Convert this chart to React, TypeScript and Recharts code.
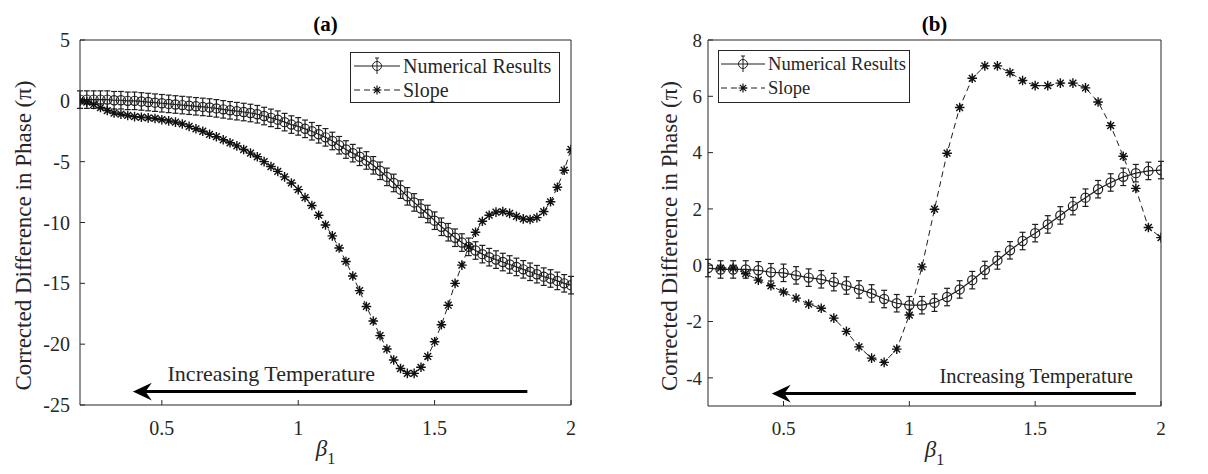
import React from "react";
import { LineChart, Line, XAxis, YAxis, ErrorBar, ReferenceLine, Legend } from "recharts";

// panel (a): beta step 0.025
const BETA_A = [
  0.2, 0.225, 0.25, 0.275, 0.3, 0.325, 0.35, 0.375, 0.4, 0.425, 0.45, 0.475, 0.5, 0.525, 0.55, 0.575,
  0.6, 0.625, 0.65, 0.675, 0.7, 0.725, 0.75, 0.775, 0.8, 0.825, 0.85, 0.875, 0.9, 0.925, 0.95, 0.975,
  1.0, 1.025, 1.05, 1.075, 1.1, 1.125, 1.15, 1.175, 1.2, 1.225, 1.25, 1.275, 1.3, 1.325, 1.35, 1.375,
  1.4, 1.425, 1.45, 1.475, 1.5, 1.525, 1.55, 1.575, 1.6, 1.625, 1.65, 1.675, 1.7, 1.725, 1.75, 1.775,
  1.8, 1.825, 1.85, 1.875, 1.9, 1.925, 1.95, 1.975, 2.0,
];
const NUM_A = [
  0.1, 0.1, 0.1, 0.1, 0.1, 0.05, 0.05, 0.0, 0.0, -0.05, -0.1, -0.15, -0.2, -0.25, -0.3, -0.35,
  -0.4, -0.45, -0.5, -0.55, -0.62, -0.7, -0.78, -0.85, -0.92, -1.0, -1.1, -1.25, -1.4, -1.55, -1.75, -1.95,
  -2.1, -2.3, -2.5, -2.75, -3.0, -3.3, -3.65, -4.0, -4.3, -4.6, -4.9, -5.3, -5.75, -6.25, -6.75, -7.3,
  -7.85, -8.35, -8.85, -9.3, -9.85, -10.35, -10.8, -11.25, -11.65, -12.0, -12.3, -12.6, -12.85, -13.05, -13.25, -13.45,
  -13.65, -13.85, -14.05, -14.25, -14.45, -14.6, -14.8, -15.0, -15.15,
];
const SLOPE_A = [
  0.0, -0.1, -0.3, -0.55, -0.8, -1.0, -1.1, -1.2, -1.3, -1.35, -1.4, -1.45, -1.55, -1.65, -1.75, -1.9,
  -2.1, -2.3, -2.5, -2.75, -2.95, -3.2, -3.45, -3.7, -4.0, -4.3, -4.6, -5.0, -5.4, -5.8, -6.25, -6.75,
  -7.3, -7.95, -8.6, -9.4, -10.2, -11.1, -12.1, -13.2, -14.4, -15.6, -16.9, -18.1, -19.3, -20.4, -21.3, -22.0,
  -22.4, -22.4, -21.9, -21.0, -19.8, -18.4, -16.8, -15.0, -13.5, -12.0, -10.8, -9.9, -9.4, -9.15, -9.1, -9.25,
  -9.5, -9.7, -9.75, -9.6, -9.1, -8.3, -7.1, -5.7, -4.0,
];
const ERR_A = 0.72;

// panel (b): beta step 0.05
const BETA_B = [
  0.2, 0.25, 0.3, 0.35, 0.4, 0.45, 0.5, 0.55, 0.6, 0.65, 0.7, 0.75, 0.8, 0.85, 0.9, 0.95,
  1.0, 1.05, 1.1, 1.15, 1.2, 1.25, 1.3, 1.35, 1.4, 1.45, 1.5, 1.55, 1.6, 1.65, 1.7, 1.75,
  1.8, 1.85, 1.9, 1.95, 2.0,
];
const NUM_B = [
  -0.1, -0.15, -0.15, -0.15, -0.18, -0.25, -0.27, -0.36, -0.44, -0.5, -0.6, -0.72, -0.86, -1.0, -1.2, -1.35,
  -1.42, -1.42, -1.33, -1.13, -0.86, -0.53, -0.17, 0.17, 0.53, 0.86, 1.14, 1.45, 1.77, 2.1, 2.4, 2.7,
  2.94, 3.14, 3.27, 3.35, 3.38,
];
const SLOPE_B = [
  null, -0.1, -0.1, -0.3, -0.53, -0.73, -0.95, -1.17, -1.38, -1.53, -1.88, -2.35, -2.9, -3.3, -3.45, -2.98,
  -1.77, -0.06, 1.99, 3.98, 5.6, 6.64, 7.08, 7.08, 6.84, 6.56, 6.38, 6.38, 6.47, 6.47, 6.3, 5.8,
  4.96, 3.87, 2.73, 1.34, 0.98,
];
const ERR_B = 0.31;

const X_TICKS = [0.5, 1, 1.5, 2];
const Y_TICKS_A = [-25, -20, -15, -10, -5, 0, 5];
const Y_TICKS_B = [-4, -2, 0, 2, 4, 6, 8];

// arrow annotations: from (right end) -> to (tip), at a y value
const ARROW_A = { from: 1.84, to: 0.4, y: -23.9 };
const ARROW_B = { from: 1.9, to: 0.46, y: -4.56 };

const FONT = "Liberation Serif, Tinos, Times New Roman, Times, DejaVu Serif, serif";
const INK = "#262626";
const LINE = "#1e1e1e";

const dataA = BETA_A.map((b, i) => ({ beta: b, num: NUM_A[i], slope: SLOPE_A[i], err: ERR_A }));
const dataB = BETA_B.map((b, i) => ({ beta: b, num: NUM_B[i], slope: SLOPE_B[i], err: ERR_B }));

const starPath = (cx: number, cy: number, r: number) => {
  const d = r * 0.7071;
  return `M${cx - r},${cy}H${cx + r}M${cx},${cy - r}V${cy + r}M${cx - d},${cy - d}L${cx + d},${cy + d}M${cx - d},${cy + d}L${cx + d},${cy - d}`;
};

const StarDot = (props: any) => {
  const { cx, cy, index } = props;
  if (cx == null || cy == null || props.value == null) return <g key={`s${index}`} />;
  return <path key={`s${index}`} d={starPath(cx, cy, 4.8)} stroke="#111" strokeWidth={1.4} fill="none" />;
};

const arrowShape = (text: string, align: "start" | "end", fontSize: number) => (p: any) => {
  const { x1, y1, x2 } = p;
  const y = y1;
  const tx = align === "start" ? x2 + 33 : x1 - 3;
  return (
    <g>
      <line x1={x1} y1={y} x2={x2 + 10} y2={y} stroke="#000" strokeWidth={3} />
      <path d={`M${x2},${y}L${x2 + 15},${y - 7}L${x2 + 10},${y}L${x2 + 15},${y + 7}Z`} fill="#000" stroke="#000" strokeWidth={1.5} />
      <text x={tx} y={y - 11} textAnchor={align} style={{ fontFamily: FONT }} fontSize={fontSize} fill={INK}>{text}</text>
    </g>
  );
};

const BetaLabel = ({ viewBox }: any) => {
  const cx = viewBox.x + viewBox.width / 2;
  return (
    <text x={cx} y={viewBox.y + 51} textAnchor="middle" fill={INK} style={{ fontFamily: FONT }} fontSize={23}>
      <tspan fontStyle="italic">β</tspan>
      <tspan fontSize={16} dy={8}>1</tspan>
    </text>
  );
};

const PhaseLabel = ({ viewBox, dx }: any) => {
  const x = viewBox.x + dx;
  const y = viewBox.y + viewBox.height / 2 + 13;
  return (
    <text x={x} y={y} transform={`rotate(-90 ${x} ${y})`} textAnchor="middle" dominantBaseline="central" fill={INK} style={{ fontFamily: FONT }} fontSize={23}>
      Corrected Difference in Phase (π)
    </text>
  );
};

const TitleLabel = ({ viewBox, text }: any) => (
  <text x={viewBox.x + viewBox.width / 2} y={viewBox.y - 8} textAnchor="middle" fill="#000" style={{ fontFamily: FONT }} fontSize={21} fontWeight="bold">
    {text}
  </text>
);

const LegendBox = ({ w, h, pad, sampleW, fontSize }: any) => (
  <div style={{ width: w, height: h, boxSizing: "border-box", border: `1px solid ${INK}`, background: "#fff", paddingLeft: pad, paddingTop: 1, fontFamily: FONT, fontSize, color: INK }}>
    <div style={{ display: "flex", alignItems: "center", height: 24, lineHeight: "24px" }}>
      <svg width={sampleW} height={24} style={{ flex: "none" }}>
        <line x1={1} y1={12} x2={sampleW - 3} y2={12} stroke={LINE} strokeWidth={1} />
        <circle cx={(sampleW - 2) / 2} cy={12} r={4.5} fill="none" stroke={LINE} strokeWidth={1} />
        <line x1={(sampleW - 2) / 2} y1={4} x2={(sampleW - 2) / 2} y2={20} stroke={LINE} strokeWidth={1} />
        <line x1={(sampleW - 2) / 2 - 2} y1={4} x2={(sampleW - 2) / 2 + 2} y2={4} stroke={LINE} strokeWidth={1} />
      </svg>
      <span style={{ whiteSpace: "nowrap" }}>Numerical Results</span>
    </div>
    <div style={{ display: "flex", alignItems: "center", height: 24, lineHeight: "24px" }}>
      <svg width={sampleW} height={24} style={{ flex: "none" }}>
        <line x1={1} y1={12} x2={sampleW - 3} y2={12} stroke={LINE} strokeWidth={1} strokeDasharray="6 4" />
        <path d={starPath((sampleW - 2) / 2, 12, 4.5)} stroke="#111" strokeWidth={1.2} fill="none" />
      </svg>
      <span style={{ whiteSpace: "nowrap" }}>Slope</span>
    </div>
  </div>
);

type PanelProps = {
  data: any[];
  title: string;
  yDomain: [number, number];
  yTicks: number[];
  yAxisWidth: number;
  yTickMargin: number;
  yLabelDx: number;
  marginRight: number;
  xAxisHeight: number;
  arrow: { from: number; to: number; y: number };
  arrowAlign: "start" | "end";
  textSize: number;
  tickSize: number;
  legend: { left: number; top: number; w: number; h: number; pad: number; sampleW: number; fontSize: number };
};

function Panel(p: PanelProps) {
  const tickStyle = { fill: INK, fontSize: p.tickSize, style: { fontFamily: FONT } };
  return (
    <LineChart width={600} height={474} data={p.data} margin={{ top: 39, right: p.marginRight, bottom: 0, left: 0 }}
      style={{ fontFamily: FONT }}>
      <XAxis dataKey="beta" type="number" domain={[0.2, 2]} ticks={X_TICKS} allowDataOverflow height={p.xAxisHeight}
        tickSize={-5} tickMargin={21} stroke={INK} tick={tickStyle} label={<BetaLabel />} />
      <XAxis xAxisId="top" orientation="top" type="number" domain={[0.2, 2]} ticks={X_TICKS} allowDataOverflow height={1}
        tickSize={-5} tick={false} stroke={INK} label={<TitleLabel text={p.title} />} />
      <YAxis type="number" domain={p.yDomain} ticks={p.yTicks} allowDataOverflow width={p.yAxisWidth}
        tickSize={-5} tickMargin={p.yTickMargin} stroke={INK} tick={tickStyle} label={<PhaseLabel dx={p.yLabelDx} />} />
      <YAxis yAxisId="right" orientation="right" type="number" domain={p.yDomain} ticks={p.yTicks} allowDataOverflow width={1}
        tickSize={-5} tick={false} stroke={INK} />
      <ReferenceLine
        segment={[{ x: p.arrow.from, y: p.arrow.y }, { x: p.arrow.to, y: p.arrow.y }]}
        shape={arrowShape("Increasing Temperature", p.arrowAlign, p.textSize)}
      />
      <Line dataKey="num" stroke={LINE} strokeWidth={1.2} isAnimationActive={false} activeDot={false}
        dot={{ r: 4.6, fill: "none", stroke: LINE, strokeWidth: 1.2 }}>
        <ErrorBar dataKey="err" direction="y" width={3} stroke={LINE} strokeWidth={1.2} isAnimationActive={false} />
      </Line>
      <Line dataKey="slope" stroke={LINE} strokeWidth={1} strokeDasharray="6 4" isAnimationActive={false} activeDot={false}
        dot={StarDot} />
      <Legend layout="horizontal" verticalAlign="middle" align="center"
        wrapperStyle={{ left: p.legend.left, top: p.legend.top, width: p.legend.w, height: p.legend.h }}
        content={() => <LegendBox {...p.legend} />} />
    </LineChart>
  );
}

export default function App() {
  return (
    <div style={{ position: "absolute", left: 0, top: 0, width: 1208, height: 474, background: "#fff", fontFamily: FONT }}>
      <div style={{ position: "absolute", left: 0, top: 0 }}>
        <Panel data={dataA} title="(a)" yDomain={[-25, 5]} yTicks={Y_TICKS_A} yAxisWidth={80} yTickMargin={15}
          yLabelDx={23} marginRight={28} xAxisHeight={69} arrow={ARROW_A} arrowAlign="start" textSize={22} tickSize={20}
          legend={{ left: 350, top: 52, w: 210, h: 51, pad: 2, sampleW: 50, fontSize: 20 }} />
      </div>
      <div style={{ position: "absolute", left: 608, top: 0 }}>
        <Panel data={dataB} title="(b)" yDomain={[-5, 8]} yTicks={Y_TICKS_B} yAxisWidth={100} yTickMargin={11}
          yLabelDx={61} marginRight={46} xAxisHeight={68} arrow={ARROW_B} arrowAlign="end" textSize={20.5} tickSize={19}
          legend={{ left: 110, top: 50, w: 192, h: 53, pad: 1, sampleW: 48, fontSize: 18.6 }} />
      </div>
    </div>
  );
}
